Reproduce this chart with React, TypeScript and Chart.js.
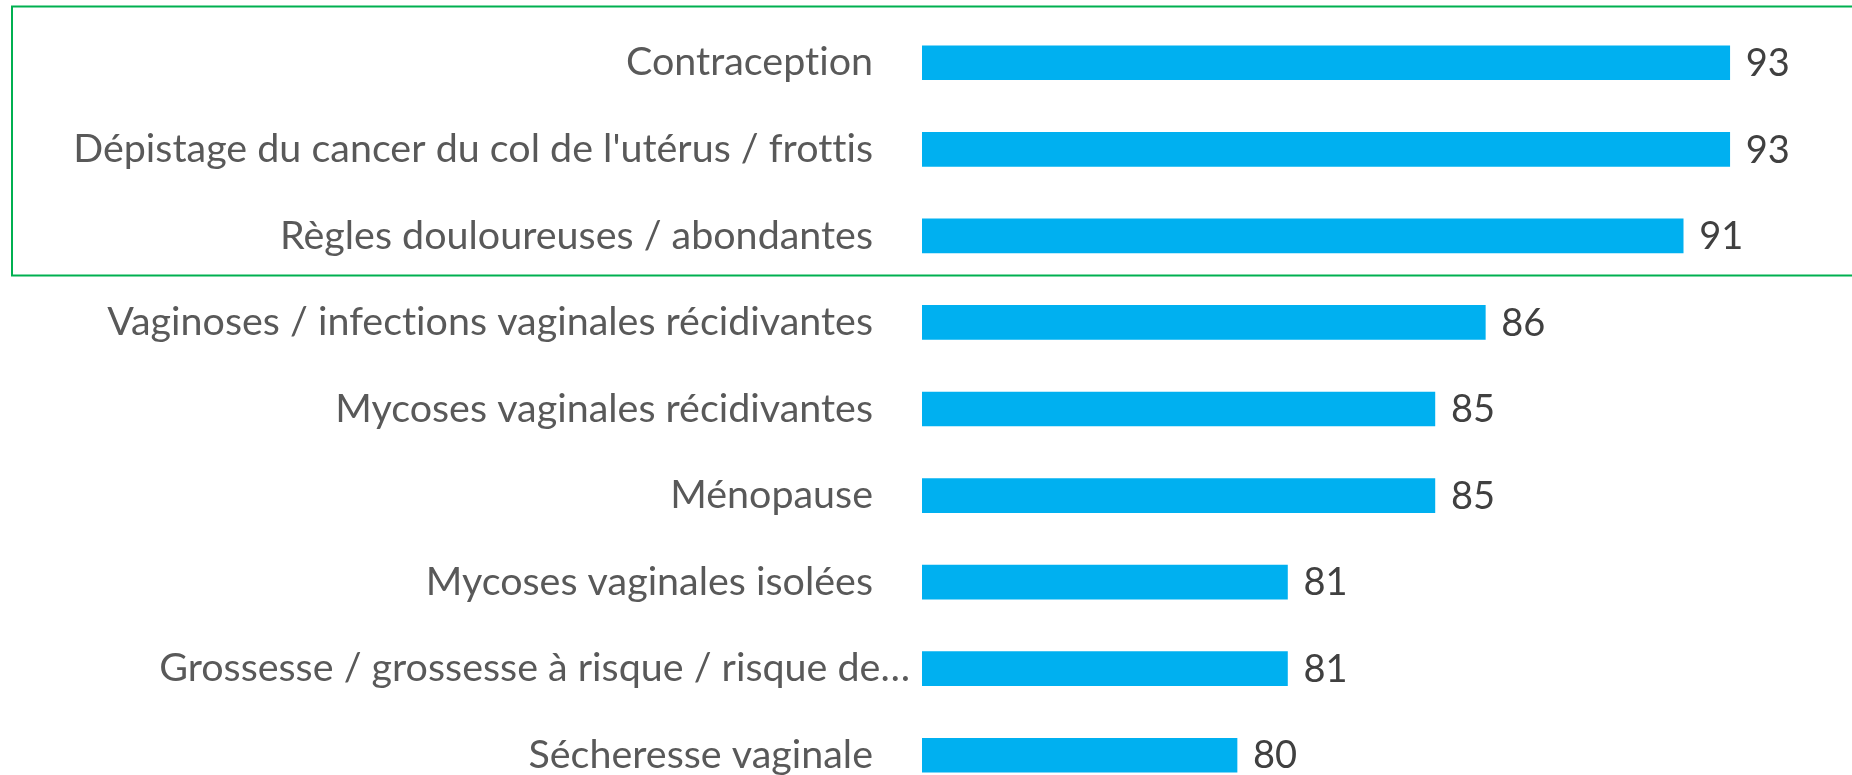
import React, { useEffect, useRef } from "react";
import { Chart, registerables } from "chart.js";

Chart.register(...registerables);

const categories = [
  "Contraception",
  "Dépistage du cancer du col de l'utérus / frottis",
  "Règles douloureuses / abondantes",
  "Vaginoses / infections vaginales récidivantes",
  "Mycoses vaginales récidivantes",
  "Ménopause",
  "Mycoses vaginales isolées",
  "Grossesse / grossesse à risque / risque de…",
  "Sécheresse vaginale",
];

const values = [92.6, 92.6, 91.4, 86.3, 85.0, 85.0, 81.2, 81.2, 79.9];

const X_MIN = 71.78;
const X_MAX = 95.7;

const FONT_FAMILY = "Lato, 'Noto Sans', sans-serif";
const LABEL_COLOR = "#595959";
const VALUE_COLOR = "#404040";
const BAR_COLOR = "#00B0F0";
const BOX_COLOR = "#00B050";

function fitSize(ctx: CanvasRenderingContext2D, text: string, target: number, max: number) {
  ctx.font = `${max}px ${FONT_FAMILY}`;
  const w = ctx.measureText(text).width;
  return Math.min(max, (max * target) / w);
}

const overlayPlugin = {
  id: "overlay",
  afterDraw(chart: any) {
    const ctx: any = chart.ctx;
    const area = chart.chartArea;
    const yScale = chart.scales.y;
    const xScale = chart.scales.x;
    ctx.save();
    try {
      ctx.textRendering = "optimizeSpeed";
      ctx.letterSpacing = "0.01px";
    } catch (e) {}

    // green highlight frame
    ctx.strokeStyle = BOX_COLOR;
    ctx.lineWidth = 2;
    ctx.strokeRect(12, 6.5, 1900, 269);

    // category labels
    const labelSize = fitSize(ctx, categories[1], 800, 40);
    ctx.font = `${labelSize}px ${FONT_FAMILY}`;
    ctx.fillStyle = LABEL_COLOR;
    ctx.textAlign = "right";
    ctx.textBaseline = "middle";
    categories.forEach((c, i) => {
      const y = yScale.getPixelForValue(i);
      const truncated = c.endsWith("…");
      const x = truncated ? area.left - 12 : area.left - 49;
      ctx.fillText(c, x, y);
    });

    // value labels
    const valSize = 38;
    ctx.font = `${valSize}px ${FONT_FAMILY}`;
    ctx.fillStyle = VALUE_COLOR;
    ctx.textAlign = "left";
    values.forEach((v, i) => {
      const y = yScale.getPixelForValue(i);
      const x = xScale.getPixelForValue(v) + 16;
      ctx.fillText(String(Math.round(v)), x, y + 1);
    });
    ctx.restore();
  },
};

export default function App() {
  const canvasRef = useRef<HTMLCanvasElement | null>(null);

  useEffect(() => {
    document.body.style.margin = "0";
    const canvas = canvasRef.current;
    if (!canvas) return;
    const chart = new Chart(canvas, {
      type: "bar",
      data: {
        labels: categories,
        datasets: [
          {
            data: values,
            backgroundColor: BAR_COLOR,
            borderWidth: 0,
            barThickness: 34,
          },
        ],
      },
      options: {
        indexAxis: "y",
        animation: false,
        responsive: false,
        maintainAspectRatio: false,
        layout: { padding: { left: 922, right: 2, top: 19.5, bottom: 1.5 } },
        plugins: {
          legend: { display: false },
          tooltip: { enabled: false },
        },
        scales: {
          x: { display: false, min: X_MIN, max: X_MAX },
          y: { display: false, offset: true },
        },
      },
      plugins: [overlayPlugin],
    });
    return () => chart.destroy();
  }, []);

  return (
    <div style={{ position: "fixed", left: 0, top: 0, width: 1852, height: 775, overflow: "hidden", background: "#fff" }}>
      <canvas ref={canvasRef} width={1852} height={800} style={{ display: "block", width: 1852, height: 800 }} />
    </div>
  );
}
